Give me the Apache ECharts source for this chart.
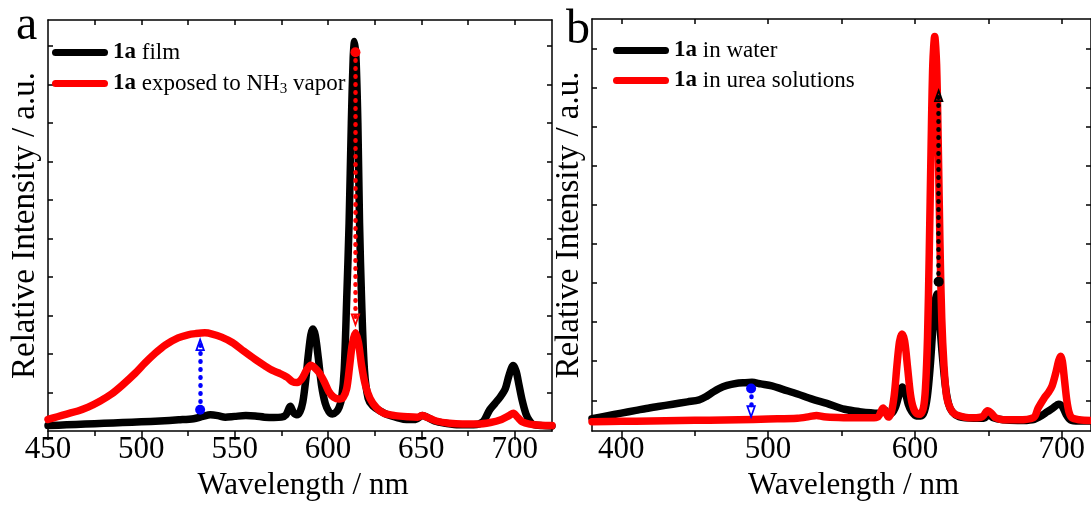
<!DOCTYPE html>
<html>
<head>
<meta charset="utf-8">
<script src="https://cdn.jsdelivr.net/npm/echarts@6/dist/echarts.min.js"></script>
<style>
  html, body { margin: 0; padding: 0; background: #fff; }
  #chart { width: 1091px; height: 506px; }
</style>
</head>
<body>
<div id="chart"></div>
<script>
// ---- Panel a: 1a film before / after NH3 vapor (wavelength nm, relative intensity) ----
const filmA = [[450,0.14],[460,0.16],[470,0.18],[480,0.2],[490,0.22],[500,0.24],[510,0.26],[520,0.29],[528,0.32],[533,0.38],[537,0.42],[541,0.4],[545,0.36],[550,0.38],[556,0.4],[561,0.39],[566,0.36],[571,0.35],[575,0.36],[577.5,0.42],[579.8,0.64],[581.5,0.48],[583.3,0.42],[585,0.5],[586.5,0.75],[588,1.3],[589.5,2.0],[590.8,2.5],[591.9,2.65],[593.2,2.48],[594.8,1.9],[596.5,1.2],[598.5,0.72],[600.5,0.5],[602.4,0.44],[604.5,0.5],[606,0.62],[607.3,0.85],[608.7,1.6],[610,3.4],[611.3,5.4],[612.5,8.0],[613.5,9.7],[614.2,10.12],[615,9.7],[616,8.0],[616.9,5.4],[618,3.4],[619.5,1.6],[621.5,0.85],[624,0.65],[628,0.52],[632,0.42],[637,0.35],[642,0.3],[647,0.3],[650.5,0.4],[653,0.36],[657,0.26],[663,0.2],[670,0.16],[678,0.16],[683,0.24],[686.6,0.55],[689.5,0.72],[692.5,0.9],[695,1.1],[697,1.45],[699.2,1.7],[700.8,1.55],[702.3,1.2],[704,0.8],[706,0.45],[708,0.26],[710,0.17],[715,0.14],[720,0.13]];
const nh3A = [[450,0.3],[455,0.37],[460,0.44],[466,0.52],[471.5,0.62],[478,0.78],[484,0.96],[490,1.2],[496.7,1.5],[502,1.77],[507.4,2.02],[513,2.24],[519.7,2.42],[525,2.5],[529,2.53],[534,2.55],[538,2.52],[543,2.44],[548.7,2.3],[555,2.07],[561,1.86],[566,1.7],[570,1.58],[574,1.5],[578,1.4],[581,1.28],[583.5,1.26],[586,1.36],[588.5,1.58],[590.8,1.71],[593,1.64],[595.5,1.5],[598,1.28],[600.5,1.02],[603,0.88],[606,0.83],[608,0.86],[610,1.1],[611.5,1.65],[613,2.25],[614.7,2.55],[616.3,2.3],[618,1.7],[620,1.2],[622.5,0.85],[626,0.6],[630,0.46],[636,0.4],[643,0.37],[648,0.36],[650.5,0.4],[653,0.36],[658,0.26],[665,0.2],[672,0.18],[680,0.18],[687,0.22],[693,0.3],[697,0.4],[699.3,0.46],[701.5,0.36],[704,0.24],[708,0.18],[714,0.15],[720,0.14]];

// ---- Panel b: 1a in water / in urea solutions ----
const waterB = [[380,-0.47],[390,-0.4],[400,-0.33],[410,-0.26],[417,-0.21],[425,-0.16],[435,-0.1],[445,-0.04],[453,0.01],[458,0.1],[462,0.2],[466.5,0.3],[472,0.38],[478,0.43],[484,0.45],[489,0.46],[495,0.42],[502.6,0.37],[510,0.28],[520,0.16],[530,0.03],[540,-0.08],[552,-0.23],[562,-0.29],[575,-0.33],[577.5,-0.31],[579.5,-0.25],[581.5,-0.33],[584,-0.34],[586.5,-0.2],[589,0.1],[591.5,0.34],[593.5,0.2],[595.5,-0.1],[598,-0.3],[601,-0.4],[604,-0.4],[606.5,-0.28],[608.5,0.1],[610.3,0.8],[611.8,1.6],[613.3,2.4],[614.8,2.72],[616.2,2.4],[617.7,1.6],[619.3,0.9],[621,0.3],[623,-0.1],[625.5,-0.3],[630,-0.42],[640,-0.46],[647,-0.46],[650.5,-0.36],[653,-0.44],[660,-0.5],[670,-0.52],[680,-0.5],[685,-0.42],[690,-0.3],[694,-0.2],[698,-0.1],[700.5,-0.16],[703,-0.36],[706,-0.5],[712,-0.53],[720,-0.53]];
const ureaB = [[380,-0.55],[400,-0.54],[420,-0.53],[440,-0.52],[460,-0.51],[480,-0.5],[500,-0.48],[520,-0.46],[528,-0.42],[533,-0.39],[538,-0.42],[548,-0.44],[560,-0.45],[570,-0.45],[575,-0.42],[578.3,-0.2],[580.2,-0.32],[582,-0.43],[584,-0.3],[586,0.15],[587.8,0.9],[589.5,1.5],[591.2,1.7],[593,1.52],[595,0.85],[597,0.15],[599,-0.2],[601.5,-0.35],[603.5,-0.36],[605.8,-0.2],[607.2,0.3],[608.6,1.6],[609.8,3.8],[611,6.4],[612.2,8.6],[613.5,9.32],[614.8,8.6],[616,6.4],[617.1,4.0],[618.3,2.1],[619.8,0.9],[621.6,0.1],[624,-0.2],[627,-0.35],[633.6,-0.43],[640,-0.45],[646,-0.42],[649.5,-0.27],[652,-0.33],[655,-0.45],[660,-0.5],[670,-0.5],[681,-0.44],[684,-0.2],[688,0.05],[691,0.2],[693.5,0.37],[696,0.7],[698,1.02],[699.3,1.13],[700.5,1.0],[702,0.5],[703.5,0],[705,-0.3],[707,-0.45],[712,-0.5],[720,-0.52]];

// Dotted arrows: wavelength, start intensity, end intensity (end is the arrowhead centre)
const arrowRedA  = { x: 614.7, from: 9.84, to: 2.87 };
const arrowBlueA = { x: 531.5, from: 0.55, to: 2.26 };
const arrowBlackB = { x: 616.2, from: 3.04, to: 7.82 };
const arrowBlueB = { x: 488.4, from: 0.3, to: -0.31 };

// Axis ranges and tick positions
const xRangeA = [450, 720];
const xRangeB = [380, 720];
const yRangeA = [0, 10.68];
const yRangeB = [-0.79, 9.77];
const xMajorA = [450, 500, 550, 600, 650, 700];
const xMinorA = [475, 525, 575, 625, 675];
const xTopA = [475, 500, 525, 550, 575, 600, 625, 650, 675, 700];
const xMajorB = [400, 500, 600, 700];
const xMinorB = [450, 550, 650];
const xTopB = [400, 450, 500, 550, 600, 650, 700];
const yTicksA = [1, 2, 3, 4, 5, 6, 7, 8, 9, 10];
const yTicksB = [0, 1, 2, 3, 4, 5, 6, 7, 8, 9];

const FONT = 'Liberation Serif';
const BLACK = '#000000', RED = '#ff0000', BLUE = '#0000ff';

const capsule = 'path://M3.5,0 L52.5,0 A3.5,3.5 0 0 1 52.5,7 L3.5,7 A3.5,3.5 0 0 1 3.5,0 Z';
const openHead = 'path://M6,0 L12,14 L0,14 Z M6,5.2 L3,12.2 L9,12.2 Z';

const legendRich = {
  b: { fontFamily: FONT, fontSize: 23, fontWeight: 'bold', color: BLACK, lineHeight: 26 },
  n: { fontFamily: FONT, fontSize: 23, color: BLACK, lineHeight: 26 },
  s: { fontFamily: FONT, fontSize: 15, color: BLACK, lineHeight: 26, verticalAlign: 'bottom', padding: [9, 0, 0, 0] }
};
const legendText = {
  '1a film': '{b|1a}{n| film}',
  '1a exposed to NH3 vapor': '{b|1a}{n| exposed to NH}{s|3}{n| vapor}',
  '1a in water': '{b|1a}{n| in water}',
  '1a in urea solutions': '{b|1a}{n| in urea solutions}'
};

function bottomAxis(grid, range, major, name, namePad) {
  return {
    type: 'value', gridIndex: grid, position: 'bottom', min: range[0], max: range[1],
    axisLine: { show: true, onZero: false, lineStyle: { color: BLACK, width: 1.5 } },
    axisTick: { show: true, inside: false, length: 9, customValues: major, lineStyle: { color: BLACK, width: 1.5 } },
    axisLabel: { show: true, customValues: major, margin: 3, fontFamily: FONT, fontSize: 31, color: BLACK },
    splitLine: { show: false },
    name: name, nameLocation: 'middle', nameGap: 33,
    nameTextStyle: { fontFamily: FONT, fontSize: 31, color: BLACK, padding: namePad }
  };
}
function tickAxis(grid, range, pos, vals, len, inside, line) {
  return {
    type: 'value', gridIndex: grid, position: pos, min: range[0], max: range[1],
    axisLine: { show: line, onZero: false, lineStyle: { color: BLACK, width: 1.5 } },
    axisTick: { show: true, inside: inside, length: len, customValues: vals, lineStyle: { color: BLACK, width: 1.5 } },
    axisLabel: { show: false },
    splitLine: { show: false }
  };
}
function leftAxis(grid, range, ticks) {
  const ax = tickAxis(grid, range, 'left', ticks, 5, true, true);
  ax.name = 'Relative Intensity / a.u.';
  ax.nameLocation = 'middle';
  ax.nameGap = 6;
  ax.nameRotate = 90;
  ax.nameTextStyle = { fontFamily: FONT, fontSize: 33, color: BLACK };
  return ax;
}

function spectrum(name, data, xi, yi, color) {
  return {
    type: 'line', name: name, data: data, xAxisIndex: xi, yAxisIndex: yi,
    showSymbol: false, symbol: 'none', smooth: 0.3, silent: true,
    lineStyle: { color: color, width: 7.5, cap: 'round', join: 'round' },
    itemStyle: { color: color }
  };
}
function arrow(a, xi, yi, color) {
  return {
    type: 'line', data: [], xAxisIndex: xi, yAxisIndex: yi, silent: true, z: 5,
    markLine: {
      silent: true, animation: false,
      symbol: ['circle', openHead], symbolSize: [10, 14],
      label: { show: false },
      lineStyle: { color: color, width: 4.5, type: [0.5, 7.5], cap: 'round' },
      itemStyle: { color: color },
      data: [[{ coord: [a.x, a.from] }, { coord: [a.x, a.to] }]]
    }
  };
}

const chart = echarts.init(document.getElementById('chart'), null, { renderer: 'canvas' });
chart.setOption({
  animation: false,
  backgroundColor: '#ffffff',
  title: [
    { text: 'a', left: 16, top: 2, padding: 0, textStyle: { fontFamily: FONT, fontSize: 48, fontWeight: 'normal', color: BLACK } },
    { text: 'b', left: 566, top: 6, padding: 0, textStyle: { fontFamily: FONT, fontSize: 48, fontWeight: 'normal', color: BLACK } }
  ],
  legend: [
    { orient: 'vertical', left: 52, top: 41, padding: 0, itemGap: 8, itemWidth: 56, itemHeight: 7, icon: capsule,
      selectedMode: false, data: ['1a film', '1a exposed to NH3 vapor'],
      formatter: n => legendText[n], textStyle: { fontFamily: FONT, fontSize: 23, color: BLACK, rich: legendRich } },
    { orient: 'vertical', left: 613, top: 39, padding: 0, itemGap: 7, itemWidth: 56, itemHeight: 7, icon: capsule,
      selectedMode: false, data: ['1a in water', '1a in urea solutions'],
      formatter: n => legendText[n], textStyle: { fontFamily: FONT, fontSize: 23, color: BLACK, rich: legendRich } }
  ],
  grid: [
    { left: 48, top: 20, width: 504, height: 411 },
    { left: 592, top: 19, width: 502, height: 413 }
  ],
  xAxis: [
    bottomAxis(0, xRangeA, xMajorA, 'Wavelength / nm', [0, 0, 0, 6]),
    tickAxis(0, xRangeA, 'bottom', xMinorA, 5, false, false),
    tickAxis(0, xRangeA, 'top', xTopA, 5, true, true),
    bottomAxis(1, xRangeB, xMajorB, 'Wavelength / nm', [0, 0, 0, 24]),
    tickAxis(1, xRangeB, 'bottom', xMinorB, 5, false, false),
    tickAxis(1, xRangeB, 'top', xTopB, 5, true, true)
  ],
  yAxis: [
    leftAxis(0, yRangeA, yTicksA),
    tickAxis(0, yRangeA, 'right', yTicksA, 5, true, true),
    leftAxis(1, yRangeB, yTicksB),
    tickAxis(1, yRangeB, 'right', yTicksB, 5, true, true)
  ],
  series: [
    spectrum('1a film', filmA, 0, 0, BLACK),
    spectrum('1a exposed to NH3 vapor', nh3A, 0, 0, RED),
    arrow(arrowRedA, 0, 0, RED),
    arrow(arrowBlueA, 0, 0, BLUE),
    spectrum('1a in water', waterB, 3, 2, BLACK),
    spectrum('1a in urea solutions', ureaB, 3, 2, RED),
    arrow(arrowBlackB, 3, 2, BLACK),
    arrow(arrowBlueB, 3, 2, BLUE)
  ]
});
</script>
</body>
</html>
